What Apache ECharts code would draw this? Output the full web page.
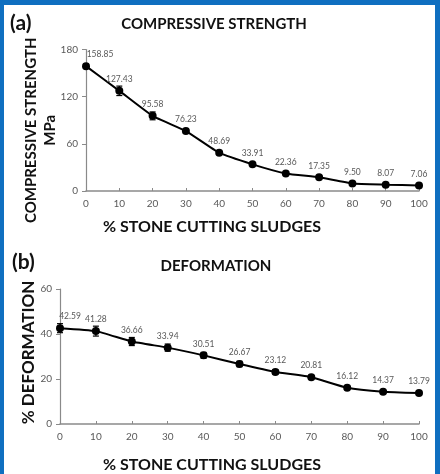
<!DOCTYPE html>
<html>
<head>
<meta charset="utf-8">
<script src="https://cdn.jsdelivr.net/npm/echarts@6/dist/echarts.min.js"></script>
<style>
  html, body { margin: 0; padding: 0; }
  body { width: 440px; height: 474px; background: #0f6fc0; position: relative; overflow: hidden; }
  #chart { position: absolute; left: 4px; top: 5px; width: 431px; height: 469px; background: #ffffff; }
</style>
</head>
<body>
<div id="chart"></div>
<script>
// ---- data ----
const sludgePercent = [0, 10, 20, 30, 40, 50, 60, 70, 80, 90, 100];
const strength = [158.85, 127.43, 95.58, 76.23, 48.69, 33.91, 22.36, 17.35, 9.50, 8.07, 7.06];
const strengthErr = [2.5, 6, 5, 3, 1.5, 1.2, 1, 1, 1, 1, 1];
const deformation = [42.59, 41.28, 36.66, 33.94, 30.51, 26.67, 23.12, 20.81, 16.12, 14.37, 13.79];
const deformationErr = [2, 2.2, 1.8, 1.6, 1.3, 1.2, 1, 0.8, 0.6, 0.6, 0.5];
const strengthTicks = [0, 60, 120, 180];
const deformationTicks = [0, 20, 40, 60];
const xTicks = [0, 100, 10];

const FONT = 'Lato, "Open Sans", sans-serif';
const chart = echarts.init(document.getElementById('chart'));

function errorItem(params, api) {
  const x = api.value(0), y = api.value(1), e = api.value(2);
  const top = api.coord([x, y + e]);
  const bot = api.coord([x, y - e]);
  const w = 3;
  const st = { stroke: '#000', lineWidth: 1.2 };
  return {
    type: 'group',
    children: [
      { type: 'line', shape: { x1: top[0], y1: top[1], x2: bot[0], y2: bot[1] }, style: st },
      { type: 'line', shape: { x1: top[0] - w, y1: top[1], x2: top[0] + w, y2: top[1] }, style: st },
      { type: 'line', shape: { x1: bot[0] - w, y1: bot[1], x2: bot[0] + w, y2: bot[1] }, style: st }
    ]
  };
}

function lineData(vals, firstOffset) {
  return sludgePercent.map((x, i) => {
    const d = { value: [x, vals[i]] };
    if (i === 0) d.label = { offset: [firstOffset, 0] };
    return d;
  });
}

function xAxisCfg(gridIndex, nameGap, padRight) {
  return {
    type: 'value', gridIndex, min: xTicks[0], max: xTicks[1], interval: xTicks[2],
    name: '% STONE CUTTING SLUDGES', nameLocation: 'middle', nameGap, nameMoveOverlap: false,
    nameTextStyle: { fontFamily: FONT, fontWeight: 'bold', fontSize: 16, color: '#111', padding: [0, padRight, 0, 0] },
    axisLine: { show: true, lineStyle: { color: '#8a8a8a', width: 1.5 } },
    axisTick: { show: true, inside: true, length: 3, lineStyle: { color: '#8a8a8a' } },
    axisLabel: { fontFamily: FONT, fontSize: 10, color: '#595959', margin: 8 },
    splitLine: { show: false }
  };
}

function yAxisCfg(gridIndex, ticks, name, nameGap, pad, fontSize, lineHeight) {
  return {
    type: 'value', gridIndex, min: ticks[0], max: ticks[ticks.length - 1], interval: ticks[1] - ticks[0],
    name, nameLocation: 'middle', nameGap, nameMoveOverlap: false,
    nameTextStyle: { fontFamily: FONT, fontWeight: 'bold', fontSize, color: '#111', lineHeight, padding: pad },
    axisLine: { show: true, lineStyle: { color: '#8a8a8a', width: 1.2 } },
    axisTick: { show: true, length: 4, lineStyle: { color: '#8a8a8a' } },
    axisLabel: { fontFamily: FONT, fontSize: 10, color: '#595959', margin: 8 },
    splitLine: { show: false }
  };
}

const labelCfg = {
  show: true, position: 'top', distance: 3,
  fontFamily: FONT, fontSize: 8.5, color: '#595959',
  formatter: p => p.value[1].toFixed(2)
};

chart.setOption({
  animation: false,
  grid: [
    { left: 82, top: 44.5, width: 333, height: 141.5 },
    { left: 56, top: 284, width: 359, height: 141 }
  ],
  xAxis: [xAxisCfg(0, 28, 81), xAxisCfg(1, 33, 55)],
  yAxis: [
    yAxisCfg(0, strengthTicks, 'COMPRESSIVE STRENGTH\nMPa', 26, [0, 20, 0, 0], 15, 19),
    yAxisCfg(1, deformationTicks, '% DEFORMATION', 21, [0, 0, 0, 8], 17, 20)
  ],
  graphic: [
    { type: 'text', x: 6, y: 18, style: { text: '(a)', font: 'bold 21px ' + FONT, fill: '#111', verticalAlign: 'middle' } },
    { type: 'text', x: 8, y: 257, style: { text: '(b)', font: 'bold 21px ' + FONT, fill: '#111', verticalAlign: 'middle' } },
    { type: 'text', x: 210, y: 19, style: { text: 'COMPRESSIVE STRENGTH', font: 'bold 15px ' + FONT, fill: '#111', align: 'center', verticalAlign: 'middle' } },
    { type: 'text', x: 212, y: 261, style: { text: 'DEFORMATION', font: 'bold 15px ' + FONT, fill: '#111', align: 'center', verticalAlign: 'middle' } }
  ],
  series: [
    {
      type: 'custom', xAxisIndex: 0, yAxisIndex: 0, z: 1,
      renderItem: errorItem, encode: { x: 0, y: 1 },
      data: sludgePercent.map((x, i) => [x, strength[i], strengthErr[i]])
    },
    {
      type: 'line', xAxisIndex: 0, yAxisIndex: 0, z: 2,
      data: lineData(strength, 14), smooth: 0.15,
      symbol: 'circle', symbolSize: 8,
      itemStyle: { color: '#000' }, lineStyle: { color: '#000', width: 2 },
      label: labelCfg
    },
    {
      type: 'custom', xAxisIndex: 1, yAxisIndex: 1, z: 1,
      renderItem: errorItem, encode: { x: 0, y: 1 },
      data: sludgePercent.map((x, i) => [x, deformation[i], deformationErr[i]])
    },
    {
      type: 'line', xAxisIndex: 1, yAxisIndex: 1, z: 2,
      data: lineData(deformation, 10), smooth: 0.15,
      symbol: 'circle', symbolSize: 8,
      itemStyle: { color: '#000' }, lineStyle: { color: '#000', width: 2 },
      label: labelCfg
    }
  ]
});
</script>
</body>
</html>
